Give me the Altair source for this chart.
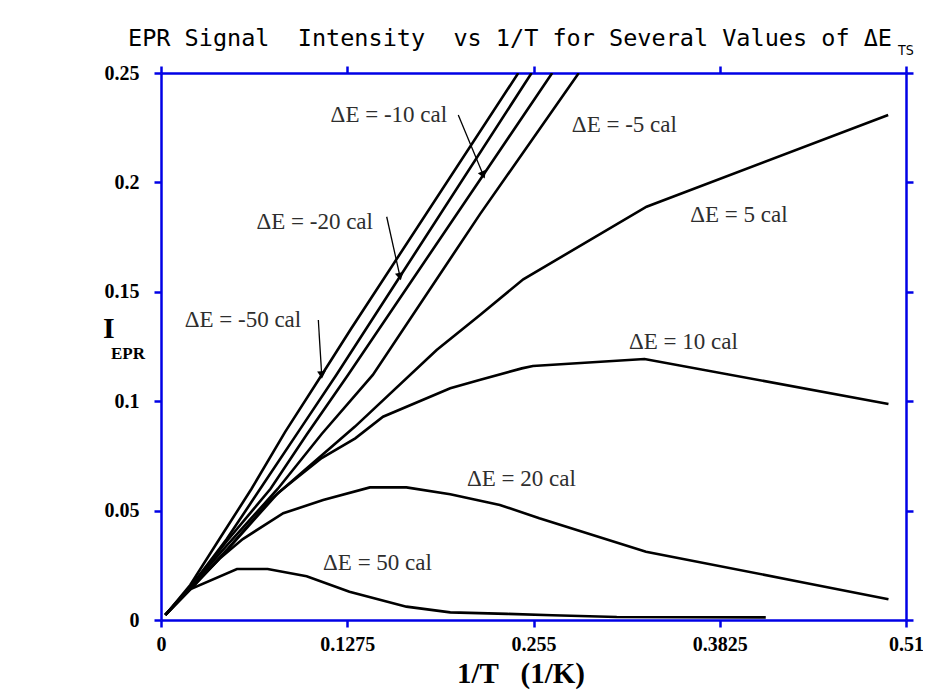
import altair as alt
import pandas as pd
import numpy as np

# ---------------- data ----------------
labels = ["-50", "-20", "-10", "-5", "5", "10", "20", "50"]

x_m50 = [0.003, 0.020, 0.040, 0.062, 0.085, 0.110, 0.130, 0.2446]
y_m50 = [0.0023, 0.016, 0.037, 0.060, 0.086, 0.112, 0.133, 0.250]

x_m20 = [0.003, 0.020, 0.045, 0.070, 0.095, 0.120, 0.1636, 0.2537]
y_m20 = [0.0023, 0.015, 0.037, 0.062, 0.087, 0.112, 0.157, 0.250]

x_m10 = [0.003, 0.020, 0.045, 0.075, 0.100, 0.128, 0.2206, 0.2678]
y_m10 = [0.0023, 0.015, 0.036, 0.060, 0.085, 0.112, 0.2034, 0.250]

x_m5 = [0.003, 0.020, 0.045, 0.080, 0.110, 0.145, 0.2184, 0.286]
y_m5 = [0.0023, 0.015, 0.034, 0.060, 0.085, 0.112, 0.1855, 0.250]

x_p5 = [0.003, 0.020, 0.045, 0.075, 0.1328, 0.1887, 0.2184, 0.248, 0.3324, 0.4978]
y_p5 = [0.0023, 0.014, 0.032, 0.055, 0.0884, 0.1234, 0.1394, 0.1557, 0.1889, 0.2308]

x_p10 = [0.003, 0.020, 0.040, 0.060, 0.080, 0.110, 0.133, 0.152, 0.198, 0.218, 0.247, 0.2546, 0.331, 0.498]
y_p10 = [0.0023, 0.014, 0.028, 0.043, 0.058, 0.074, 0.083, 0.0929, 0.1059, 0.1097, 0.115, 0.1161, 0.1193, 0.0987]

x_p20 = [0.003, 0.020, 0.040, 0.056, 0.0837, 0.111, 0.143, 0.168, 0.198, 0.232, 0.259, 0.332, 0.437, 0.498]
y_p20 = [0.0023, 0.014, 0.028, 0.037, 0.0488, 0.0548, 0.0606, 0.0606, 0.0575, 0.0526, 0.0465, 0.0312, 0.0175, 0.0095]

x_p50 = [0.003, 0.0187, 0.052, 0.073, 0.0997, 0.129, 0.168, 0.198, 0.237, 0.268, 0.312, 0.414]
y_p50 = [0.0023, 0.0137, 0.0233, 0.0233, 0.020, 0.0129, 0.0061, 0.0035, 0.0028, 0.0022, 0.0014, 0.0012]

xs = [x_m50, x_m20, x_m10, x_m5, x_p5, x_p10, x_p20, x_p50]
ys = [y_m50, y_m20, y_m10, y_m5, y_p5, y_p10, y_p20, y_p50]

# annotation texts and their anchor positions (data units)
ann_text = ["ΔE = -10 cal", "ΔE = -20 cal", "ΔE = -50 cal", "ΔE = -5 cal",
            "ΔE = 5 cal", "ΔE = 10 cal", "ΔE = 20 cal", "ΔE = 50 cal"]
ann_x = [0.156, 0.1052, 0.0561, 0.3172, 0.3956, 0.3576, 0.2467, 0.1482]
ann_y = [0.2308, 0.1819, 0.1371, 0.2262, 0.1851, 0.1271, 0.0644, 0.0261]

# arrows: start -> tip (data units)
arr_x0 = [0.2035, 0.1545, 0.1077]
arr_y0 = [0.2308, 0.1843, 0.1371]
arr_x1 = [0.2206, 0.1636, 0.1100]
arr_y1 = [0.2034, 0.1570, 0.1120]

x_ticks = [0, 0.1275, 0.255, 0.3825, 0.51]
y_ticks = [0, 0.05, 0.1, 0.15, 0.2, 0.25]

NB = "\u00a0"
title_text = f"EPR Signal{NB}{NB}Intensity{NB}{NB}vs 1/T for Several Values of ΔE"

# ---------------- build tables ----------------
rows = []
for lab, xx, yy in zip(labels, xs, ys):
    for i, (a, b) in enumerate(zip(xx, yy)):
        rows.append({"series": lab, "x": a, "y": b, "i": i})
df = pd.DataFrame(rows)

W, H = 745, 547
XMAX, YMAX = 0.51, 0.25

ann_df = pd.DataFrame({"t": ann_text, "x": ann_x, "y": ann_y})
arr_df = pd.DataFrame({"x": arr_x0, "y": arr_y0, "x2": arr_x1, "y2": arr_y1})
dxp = (arr_df["x2"] - arr_df["x"]) * W / XMAX
dyp = -(arr_df["y2"] - arr_df["y"]) * H / YMAX
arr_df["ang"] = (np.degrees(np.arctan2(dxp, -dyp)) % 360)

BLUE = "#0000e6"
SERIF = "Liberation Serif"

xscale = alt.Scale(domain=[0, XMAX], nice=False, zero=False)
yscale = alt.Scale(domain=[0, YMAX], nice=False, zero=False)

common = dict(grid=False, title=None, domainColor=BLUE, domainWidth=2.5,
              tickColor=BLUE, tickWidth=2.5, tickSize=7)

x_axis = alt.Axis(values=x_ticks, format=".4~f", labelFont=SERIF, labelFontWeight="bold",
                  labelFontSize=20, labelColor="black", labelPadding=7, labelFlush=False, **common)
y_axis = alt.Axis(values=y_ticks, format=".2~f", labelFont=SERIF, labelFontWeight="bold",
                  labelFontSize=20, labelColor="black", labelPadding=15, **common)

lines = alt.Chart(df).mark_line(color="black", strokeWidth=2.6, clip=True).encode(
    x=alt.X("x:Q", scale=xscale, axis=x_axis),
    y=alt.Y("y:Q", scale=yscale, axis=y_axis),
    detail="series:N",
    order="i:Q",
)

frame = alt.Chart(df).mark_point(opacity=0).encode(
    x=alt.X("x:Q", scale=xscale,
            axis=alt.Axis(orient="top", values=x_ticks, labels=False, **common)),
    y=alt.Y("y:Q", scale=yscale,
            axis=alt.Axis(orient="right", values=y_ticks, labels=False, **common)),
)

ann = alt.Chart(ann_df).mark_text(font=SERIF, fontSize=23, color="#2e2e2e",
                                  align="center", baseline="middle").encode(
    x=alt.X("x:Q", scale=xscale, axis=None), y=alt.Y("y:Q", scale=yscale, axis=None), text="t:N")

shafts = alt.Chart(arr_df).mark_rule(color="black", strokeWidth=1.3).encode(
    x=alt.X("x:Q", scale=xscale, axis=None), y=alt.Y("y:Q", scale=yscale, axis=None),
    x2="x2:Q", y2="y2:Q")

heads = alt.Chart(arr_df).mark_point(shape="triangle-up", filled=True, color="black",
                                     size=75, opacity=1).encode(
    x=alt.X("x2:Q", scale=xscale, axis=None), y=alt.Y("y2:Q", scale=yscale, axis=None),
    angle=alt.Angle("ang:Q", scale=None))

title = alt.Chart(pd.DataFrame({"t": [title_text]})).mark_text(
    font="DejaVu Sans Mono", fontSize=23.5, align="left",
    baseline="alphabetic", color="black").encode(
    x=alt.value(-33), y=alt.value(-27), text="t:N")
title_sub = alt.Chart(pd.DataFrame({"t": ["TS"]})).mark_text(
    font="DejaVu Sans Condensed", fontSize=14, align="left", baseline="alphabetic", color="black").encode(
    x=alt.value(737), y=alt.value(-18), text="t:N")

xtitle = alt.Chart(pd.DataFrame({"t": [f"1/T{NB}{NB}{NB}(1/K)"]})).mark_text(
    font=SERIF, fontSize=29, fontWeight="bold", align="center", baseline="alphabetic", color="black").encode(
    x=alt.value(360), y=alt.value(610), text="t:N")

ytitle_I = alt.Chart(pd.DataFrame({"t": ["I"]})).mark_text(
    font=SERIF, fontSize=30, fontWeight="bold", align="left", baseline="alphabetic", color="black").encode(
    x=alt.value(-58), y=alt.value(265), text="t:N")
ytitle_sub = alt.Chart(pd.DataFrame({"t": ["EPR"]})).mark_text(
    font=SERIF, fontSize=17, fontWeight="bold", align="left", baseline="alphabetic", color="black").encode(
    x=alt.value(-50), y=alt.value(286), text="t:N")

chart = alt.layer(lines, frame, shafts, heads, ann, title, title_sub, xtitle,
                  ytitle_I, ytitle_sub).resolve_axis(
    x="independent", y="independent"
).properties(
    width=W, height=H,
    autosize=alt.AutoSizeParams(type="none"),
    padding={"left": 153, "top": 65, "right": 17, "bottom": 76},
).configure_view(stroke=None).configure(background="white")

chart.save("out.html", embed_options={"renderer": "svg", "actions": False})
